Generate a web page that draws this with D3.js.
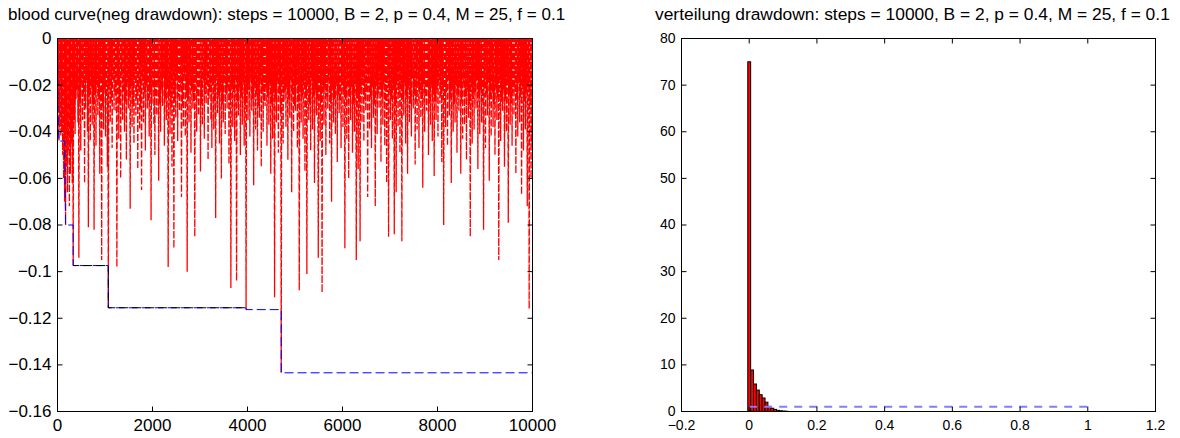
<!DOCTYPE html>
<html>
<head>
<meta charset="utf-8">
<script src="https://cdn.jsdelivr.net/npm/d3@7"></script>
<style>
  body { margin: 0; background: #fff; }
  svg { font-family: "Liberation Sans", Arial, Helvetica, sans-serif; }
</style>
</head>
<body>
<svg id="chart" width="1180" height="438"></svg>
<script>
// ---- data ----
const nSteps = 10000;
const blockLen = 20; // one drawdown trough per 20 steps

// trough of each drawdown block (neg drawdown), left to right
const ddTroughs = [
  -0.030, -0.044, -0.038, -0.042, -0.040, -0.050, -0.060, -0.070, -0.080, -0.055, -0.066, -0.048, -0.072, -0.058, -0.045, -0.062, -0.0974, -0.035, -0.041, -0.026,
  -0.022, -0.036, -0.094, -0.027, -0.048, -0.019, -0.035, -0.024, -0.062, -0.030, -0.018, -0.040, -0.081, -0.025, -0.044, -0.021, -0.037, -0.028, -0.082, -0.023,
  -0.046, -0.020, -0.033, -0.026, -0.058, -0.017, -0.095, -0.029, -0.039, -0.022, -0.042, -0.025, -0.055, -0.1155, -0.021, -0.036, -0.027, -0.047, -0.018, -0.031,
  -0.024, -0.031, -0.098, -0.020, -0.043, -0.028, -0.060, -0.016, -0.035, -0.023, -0.040, -0.027, -0.052, -0.019, -0.030, -0.025, -0.073, -0.021, -0.038, -0.029,
  -0.045, -0.018, -0.033, -0.026, -0.056, -0.022, -0.039, -0.030, -0.065, -0.017, -0.036, -0.024, -0.048, -0.020, -0.030, -0.027, -0.042, -0.023, -0.078, -0.028,
  -0.021, -0.037, -0.050, -0.025, -0.033, -0.019, -0.061, -0.028, -0.040, -0.022, -0.029, -0.017, -0.046, -0.026, -0.035, -0.020, -0.098, -0.024, -0.041, -0.030,
  -0.055, -0.023, -0.090, -0.027, -0.034, -0.018, -0.044, -0.025, -0.031, -0.021, -0.068, -0.029, -0.038, -0.016, -0.042, -0.024, -0.100, -0.026, -0.036, -0.020,
  -0.049, -0.022, -0.030, -0.027, -0.085, -0.019, -0.040, -0.025, -0.033, -0.021, -0.057, -0.028, -0.037, -0.018, -0.043, -0.024, -0.028, -0.020, -0.052, -0.026,
  -0.023, -0.035, -0.047, -0.020, -0.039, -0.027, -0.077, -0.017, -0.032, -0.025, -0.045, -0.022, -0.060, -0.028, -0.036, -0.019, -0.041, -0.024, -0.030, -0.021,
  -0.054, -0.026, -0.107, -0.020, -0.038, -0.023, -0.044, -0.018, -0.104, -0.027, -0.033, -0.021, -0.050, -0.025, -0.037, -0.019, -0.046, -0.028, -0.1163, -0.024,
  -0.035, -0.022, -0.042, -0.017, -0.031, -0.026, -0.063, -0.020, -0.039, -0.024, -0.048, -0.029, -0.034, -0.018, -0.055, -0.023, -0.040, -0.027, -0.029, -0.021,
  -0.046, -0.025, -0.037, -0.019, -0.058, -0.028, -0.043, -0.022, -0.111, -0.026, -0.036, -0.018, -0.049, -0.024, -0.032, -0.1434, -0.020, -0.045, -0.027, -0.023,
  -0.038, -0.021, -0.052, -0.026, -0.034, -0.018, -0.066, -0.024, -0.040, -0.029, -0.031, -0.020, -0.047, -0.027, -0.108, -0.022, -0.036, -0.025, -0.043, -0.019,
  -0.057, -0.024, -0.101, -0.020, -0.035, -0.028, -0.048, -0.017, -0.039, -0.025, -0.062, -0.022, -0.033, -0.026, -0.094, -0.019, -0.044, -0.027, -0.109, -0.023,
  -0.037, -0.021, -0.050, -0.025, -0.030, -0.018, -0.045, -0.028, -0.070, -0.022, -0.036, -0.026, -0.041, -0.019, -0.053, -0.024, -0.032, -0.027, -0.047, -0.020,
  -0.038, -0.023, -0.090, -0.026, -0.043, -0.019, -0.060, -0.025, -0.035, -0.021, -0.049, -0.028, -0.040, -0.018, -0.095, -0.024, -0.056, -0.027, -0.087, -0.022,
  -0.036, -0.020, -0.044, -0.026, -0.031, -0.023, -0.068, -0.017, -0.039, -0.025, -0.047, -0.021, -0.034, -0.028, -0.072, -0.019, -0.041, -0.024, -0.030, -0.022,
  -0.053, -0.025, -0.037, -0.020, -0.046, -0.027, -0.062, -0.018, -0.085, -0.023, -0.035, -0.026, -0.043, -0.021, -0.084, -0.028, -0.066, -0.019, -0.038, -0.024,
  -0.049, -0.022, -0.087, -0.026, -0.033, -0.019, -0.045, -0.025, -0.058, -0.021, -0.036, -0.028, -0.042, -0.017, -0.030, -0.024, -0.054, -0.027, -0.039, -0.020,
  -0.047, -0.023, -0.034, -0.026, -0.064, -0.018, -0.040, -0.025, -0.031, -0.021, -0.050, -0.028, -0.037, -0.020, -0.044, -0.024, -0.059, -0.027, -0.035, -0.022,
  -0.042, -0.019, -0.028, -0.025, -0.053, -0.021, -0.080, -0.027, -0.038, -0.023, -0.046, -0.018, -0.033, -0.026, -0.062, -0.022, -0.040, -0.028, -0.036, -0.020,
  -0.049, -0.024, -0.031, -0.021, -0.058, -0.027, -0.043, -0.019, -0.037, -0.025, -0.052, -0.022, -0.034, -0.028, -0.085, -0.020, -0.045, -0.026, -0.039, -0.023,
  -0.030, -0.018, -0.056, -0.025, -0.041, -0.022, -0.036, -0.027, -0.082, -0.020, -0.047, -0.024, -0.033, -0.019, -0.061, -0.026, -0.042, -0.023, -0.038, -0.028,
  -0.050, -0.021, -0.035, -0.025, -0.095, -0.018, -0.044, -0.027, -0.031, -0.022, -0.055, -0.026, -0.040, -0.020, -0.079, -0.024, -0.037, -0.028, -0.046, -0.023,
  -0.033, -0.022, -0.058, -0.026, -0.042, -0.019, -0.036, -0.025, -0.067, -0.021, -0.048, -0.027, -0.039, -0.023, -0.072, -0.020, -0.116, -0.028, -0.060, -0.045
];

// running max drawdown [step, value] (blue dashed)
const maxDrawdown = [
  [0, 0], [10, -0.030], [30, -0.044], [150, -0.044], [170, -0.080], [330, -0.080],
  [330, -0.0974], [1070, -0.0974], [1070, -0.1155], [3970, -0.1155],
  [3970, -0.1163], [4710, -0.1163], [4710, -0.1434], [10000, -0.1434]
];
// black dashed reference level
const blackLevel = [[330, -0.0974], [1070, -0.0974], [1070, -0.1155], [3970, -0.1155]];

// histogram of drawdowns (percent)
const histCenters = [0, 0.0085, 0.017, 0.0255, 0.034, 0.0425, 0.051, 0.0595, 0.068, 0.0765, 0.085, 0.0935, 0.102, 0.1105];
const histPct     = [75, 8.9, 5.9, 4.6, 3.6, 2.9, 2.0, 1.1, 0.7, 0.45, 0.25, 0.15, 0.1, 0.05];
const distLine = [[0, 1], [1, 1]];

const leftXTicks = [0, 2000, 4000, 6000, 8000, 10000];
const leftYTicks = [0, -0.02, -0.04, -0.06, -0.08, -0.1, -0.12, -0.14, -0.16];
const rightXTicks = [-0.2, 0, 0.2, 0.4, 0.6, 0.8, 1, 1.2];
const rightYTicks = [0, 10, 20, 30, 40, 50, 60, 70, 80];

const leftTitle = "blood curve(neg drawdown): steps = 10000, B = 2, p = 0.4, M = 25, f = 0.1";
const rightTitle = "verteilung drawdown: steps = 10000, B = 2, p = 0.4, M = 25, f = 0.1";

// ---- drawing ----
const svg = d3.select("#chart");
const minus = v => (v < 0 ? "\u2212" : "") + d3.format("~g")(Math.abs(v));

function drawFrame(g, x, y, xTicks, yTicks, fontSize, xPad) {
  const [x0, x1] = x.range(), [yb, yt] = y.range();
  g.append("g").attr("transform", `translate(0,${yb})`)
    .call(d3.axisBottom(x).tickValues(xTicks).tickSizeInner(-5).tickSizeOuter(0).tickPadding(xPad).offset(0).tickFormat(minus));
  g.append("g").attr("transform", `translate(0,${yt})`)
    .call(d3.axisTop(x).tickValues(xTicks).tickSizeInner(-5).tickSizeOuter(0).offset(0).tickFormat(""));
  g.append("g").attr("transform", `translate(${x0},0)`)
    .call(d3.axisLeft(y).tickValues(yTicks).tickSizeInner(-5).tickSizeOuter(0).tickPadding(6).offset(0).tickFormat(minus));
  g.append("g").attr("transform", `translate(${x1},0)`)
    .call(d3.axisRight(y).tickValues(yTicks).tickSizeInner(-5).tickSizeOuter(0).offset(0).tickFormat(""));
  g.selectAll(".domain").remove();
  g.selectAll(".tick line").attr("stroke", "#000");
  g.selectAll(".tick text")
    .attr("fill", "#000")
    .attr("font-size", fontSize)
    .attr("font-family", "Liberation Sans, Arial, sans-serif");
  g.append("rect")
    .attr("x", x0).attr("y", yt)
    .attr("width", x1 - x0).attr("height", yb - yt)
    .attr("fill", "none").attr("stroke", "#000");
}

// left: neg drawdown over time
const xL = d3.scaleLinear().domain([0, nSteps]).range([57.5, 532.5]);
const yL = d3.scaleLinear().domain([-0.16, 0]).range([411.5, 38.5]);

svg.append("clipPath").attr("id", "clipL")
  .append("rect").attr("x", 57.5).attr("y", 38.5).attr("width", 475).attr("height", 373);

const ddPoints = [[0, 0]];
ddTroughs.forEach((d, i) => {
  ddPoints.push([i * blockLen + blockLen / 2, d]);
  ddPoints.push([(i + 1) * blockLen, 0]);
});

const line = d3.line().x(d => xL(d[0])).y(d => yL(d[1]));
const gL = svg.append("g");

gL.append("path")
  .attr("clip-path", "url(#clipL)")
  .attr("d", line(ddPoints))
  .attr("fill", "none")
  .attr("stroke", "#ff0000")
  .attr("stroke-width", 1.3)
  .attr("stroke-dasharray", "7,2");

gL.append("path")
  .attr("clip-path", "url(#clipL)")
  .attr("d", line(maxDrawdown))
  .attr("fill", "none")
  .attr("stroke", "#0000ff")
  .attr("stroke-width", 1)
  .attr("stroke-dasharray", "9,4");

gL.append("path")
  .attr("clip-path", "url(#clipL)")
  .attr("d", line(blackLevel))
  .attr("fill", "none")
  .attr("stroke", "#000")
  .attr("stroke-width", 1)
  .attr("stroke-dasharray", "9,4")
  .attr("stroke-dashoffset", 3);

drawFrame(gL, xL, yL, leftXTicks, leftYTicks, 17, 7);

gL.append("text")
  .attr("x", 8).attr("y", 20)
  .attr("text-anchor", "start")
  .attr("font-size", 17)
  .text(leftTitle);

// right: histogram of drawdowns
const xR = d3.scaleLinear().domain([-0.2, 1.2]).range([681.5, 1155.5]);
const yR = d3.scaleLinear().domain([0, 80]).range([411.5, 38.5]);
const binW = histCenters[1] - histCenters[0];
const gR = svg.append("g");

gR.selectAll("rect.bar")
  .data(histCenters)
  .enter()
  .append("rect")
  .classed("bar", true)
  .attr("x", d => xR(d - binW / 2))
  .attr("y", (d, i) => yR(histPct[i]))
  .attr("width", xR(binW) - xR(0))
  .attr("height", (d, i) => yR(0) - yR(histPct[i]))
  .attr("fill", "#ff0000")
  .attr("stroke", "#000")
  .attr("stroke-width", 1);

gR.append("path")
  .attr("d", d3.line().x(d => xR(d[0])).y(d => yR(d[1]))(distLine))
  .attr("fill", "none")
  .attr("stroke", "#7f7fff")
  .attr("stroke-width", 2)
  .attr("stroke-dasharray", "8,7");

drawFrame(gR, xR, yR, rightXTicks, rightYTicks, 14, 8.5);

gR.append("text")
  .attr("x", 655).attr("y", 20)
  .attr("text-anchor", "start")
  .attr("font-size", 17.4)
  .text(rightTitle);
</script>
</body>
</html>
